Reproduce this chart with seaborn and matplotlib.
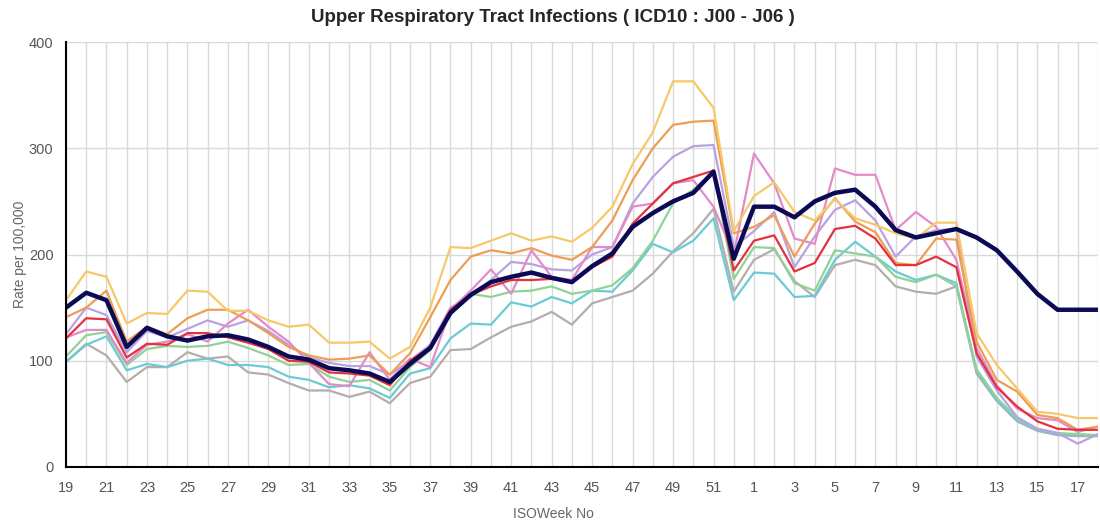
import numpy as np
import pandas as pd
import matplotlib
matplotlib.use("Agg")
import matplotlib.pyplot as plt
import matplotlib.transforms as mtransforms
import seaborn as sns

# ISO weeks shown on the x axis (season runs wk19 -> wk18 of next year)
weeks = list(range(19, 53)) + list(range(1, 19))

navy = [150, 164, 157, 113, 131, 123, 119, 123, 124, 120, 113, 104, 101, 93, 91, 88, 80,
        97, 112, 145, 162, 174, 179, 183, 178, 174, 189, 201, 226, 239, 250, 258, 278, 196,
        245, 245, 235, 250, 258, 261, 245, 223, 216, 220, 224, 216, 204, 184, 163, 148, 148, 148]
yellow = [157, 184, 179, 135, 145, 144, 166, 165, 147, 147, 138, 132, 134, 117, 117, 118, 102,
          113, 150, 207, 206, 213, 220, 213, 217, 212, 225, 245, 285, 315, 363, 363, 338, 222,
          255, 268, 240, 232, 252, 234, 228, 220, 215, 230, 230, 126, 96, 74, 52, 50, 46, 46]
orange = [141, 150, 166, 118, 132, 125, 140, 148, 148, 138, 126, 113, 105, 101, 102, 105, 87,
          107, 141, 176, 198, 204, 201, 206, 199, 195, 207, 232, 270, 300, 322, 325, 326, 220,
          226, 237, 198, 229, 253, 231, 221, 192, 190, 215, 214, 118, 82, 71, 49, 46, 35, 38]
lavender = [125, 150, 143, 108, 128, 122, 130, 138, 132, 138, 128, 115, 103, 98, 95, 95, 87,
            100, 115, 150, 160, 176, 193, 191, 186, 185, 200, 207, 248, 273, 292, 302, 303, 207,
            222, 240, 188, 217, 242, 251, 232, 198, 217, 223, 224, 104, 72, 47, 36, 32, 22, 31]
pink = [122, 129, 129, 98, 115, 118, 125, 118, 135, 148, 132, 118, 98, 78, 76, 108, 82,
        102, 94, 148, 166, 186, 163, 204, 179, 176, 207, 207, 245, 248, 267, 270, 245, 200,
        295, 267, 215, 210, 281, 275, 275, 223, 240, 226, 195, 112, 77, 55, 46, 44, 33, 38]
red = [121, 140, 139, 103, 116, 115, 126, 126, 122, 117, 111, 100, 99, 89, 88, 86, 77,
       100, 113, 148, 162, 170, 176, 176, 177, 174, 188, 198, 229, 248, 267, 273, 279, 185,
       213, 218, 184, 192, 224, 227, 215, 190, 190, 198, 188, 107, 75, 57, 43, 36, 35, 35]
green = [104, 124, 127, 96, 111, 114, 113, 114, 118, 112, 105, 96, 97, 85, 80, 82, 72,
         94, 110, 146, 163, 160, 165, 166, 170, 163, 166, 171, 187, 213, 248, 261, 278, 177,
         207, 206, 173, 166, 204, 201, 198, 179, 174, 181, 170, 92, 65, 46, 36, 32, 31, 30]
cyan = [99, 115, 123, 91, 97, 94, 100, 102, 96, 96, 94, 85, 82, 75, 77, 74, 65,
        88, 93, 121, 135, 134, 155, 151, 160, 154, 166, 165, 185, 210, 202, 213, 234, 157,
        183, 182, 160, 161, 195, 212, 198, 184, 176, 181, 173, 90, 63, 44, 35, 31, 30, 30]
gray = [99, 116, 105, 80, 94, 94, 108, 102, 104, 89, 87, 79, 72, 72, 66, 71, 60,
        79, 85, 110, 111, 122, 132, 137, 146, 134, 154, 160, 166, 182, 203, 220, 243, 165,
        195, 205, 175, 160, 190, 195, 190, 170, 165, 163, 170, 88, 62, 43, 34, 30, 29, 29]

series = [
    (gray, "#b5acac"),
    (cyan, "#6ccad4"),
    (green, "#92d196"),
    (lavender, "#b9a2e2"),
    (pink, "#e28bcb"),
    (orange, "#ee9d55"),
    (yellow, "#f6c868"),
    (red, "#e2323e"),
]

sns.set_style("white")
plt.rcParams["font.family"] = ["Liberation Sans", "DejaVu Sans"]

fig = plt.figure(figsize=(11, 5.22), dpi=100)
ax = fig.add_axes([66 / 1100, 1 - 467 / 522, 1032 / 1100, 425 / 522])

idx = np.arange(len(weeks))
for vals, col in series:
    sns.lineplot(x=idx, y=vals, color=col, linewidth=1.6, ax=ax)
sns.lineplot(x=idx, y=navy, color="#0b0b55", linewidth=3.2, ax=ax)

ax.set_xlim(0, len(weeks) - 1)
ax.set_ylim(0, 400)
ax.set_yticks([0, 100, 200, 300, 400])
ax.set_xticks(idx)
ax.set_xticklabels([str(w) if i % 2 == 0 else "" for i, w in enumerate(weeks)])

# labels in the original sit a little left of their ticks
shift = mtransforms.ScaledTranslation(-12 / 100, 0, fig.dpi_scale_trans)
for lab in ax.get_xticklabels():
    lab.set_transform(lab.get_transform() + shift)

ax.grid(True, color="#d9d9d9", linewidth=1)
ax.set_axisbelow(True)
for s in ["top", "right"]:
    ax.spines[s].set_visible(False)
for s in ["left", "bottom"]:
    ax.spines[s].set_color("black")
    ax.spines[s].set_linewidth(1.5)
ax.tick_params(axis="both", direction="out", length=6, width=1.3, color="black",
               labelcolor="#555555", labelsize=10.5, pad=4)
ax.tick_params(axis="y", length=5)

ax.set_ylabel("Rate per 100,000", color="#666666", fontsize=10)
ax.yaxis.set_label_coords(-0.038, 0.5)
ax.set_xlabel("ISOWeek No", color="#666666", fontsize=10)
ax.xaxis.set_label_coords((553 - 66) / 1032, -0.095)

fig.suptitle("Upper Respiratory Tract Infections ( ICD10 : J00 - J06 )",
             x=553 / 1100, y=1 - 18 / 522, va="center", fontsize=13.5, fontweight="bold")

fig.savefig("out.png", dpi=100)
